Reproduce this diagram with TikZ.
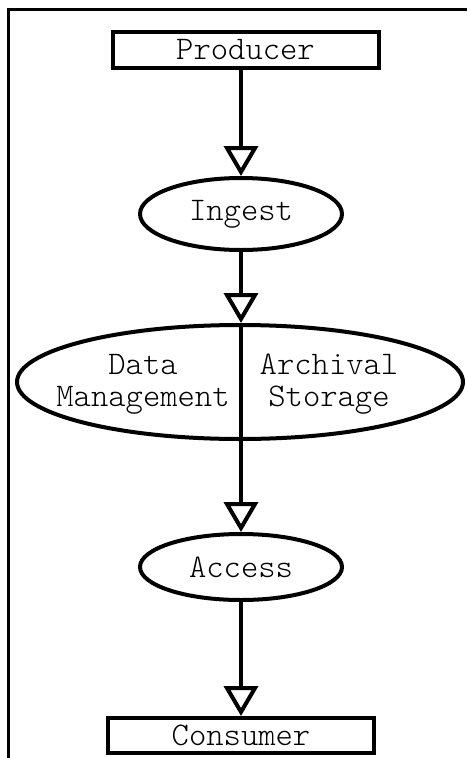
\documentclass[tikz,border=0pt]{standalone}
\usetikzlibrary{shapes.geometric, arrows.meta}

\begin{document}
\begin{tikzpicture}[
    x=1pt, y=-1pt,
    every node/.style={font=\ttfamily\fontseries{l}\fontsize{33}{32}\selectfont, inner sep=0pt},
    party/.style={draw, line width=4pt, minimum width=266pt},
    func/.style={draw, ellipse, line width=4pt},
    flow/.style={line width=4pt, -{Triangle[open, length=30pt, width=34pt]}},
]
    \useasboundingbox (0,0) rectangle (467,758);
    % frame
    \draw[line width=3pt] (8,758) -- (8,9) -- (467,9);

    \node[party, minimum height=36pt] (producer) at (245.5,50) {Producer};
    \node[func, minimum width=202pt, minimum height=72pt] (ingest) at (241,214) {Ingest};
    \node[func, minimum width=446pt, minimum height=114pt] (store) at (240,382) {};
    \node[align=center] (datamgmt) at (143,384) {Data\\Management};
    \node[align=center] (archive) at (329,384) {Archival\\Storage};
    \node[func, minimum width=202pt, minimum height=66pt] (access) at (241,567) {Access};
    \node[party, minimum height=35pt] (consumer) at (241,735.5) {Consumer};

    \draw[flow] (producer.south -| ingest.north) -- (ingest.north);
    \draw[flow] (ingest.south) -- (store.north -| ingest.south);
    \draw[flow] (store.north -| access.north) -- (access.north);
    \draw[flow] (access.south) -- (consumer.north -| access.south);
\end{tikzpicture}
\end{document}
